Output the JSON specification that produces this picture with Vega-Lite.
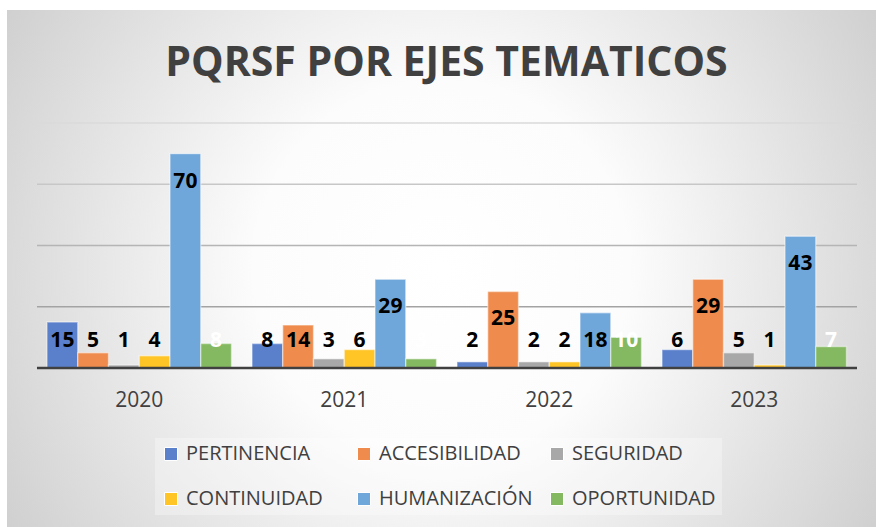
{
  "$schema": "https://vega.github.io/schema/vega-lite/v6.json",
  "width": 869,
  "height": 517,
  "autosize": {"type": "none"},
  "padding": {"left": 7, "top": 10, "right": 0, "bottom": 0},
  "background": "#ffffff",
  "config": {
    "view": {
      "stroke": null,
      "fill": {
        "gradient": "radial",
        "x1": 0.5, "y1": 0.5, "r1": 0,
        "x2": 0.5, "y2": 0.5, "r2": 0.72,
        "stops": [
          {"offset": 0, "color": "#ffffff"},
          {"offset": 0.3, "color": "#fcfcfc"},
          {"offset": 1, "color": "#bfbfbf"}
        ]
      }
    },
    "font": "Open Sans",
    "axisX": {"orient": "bottom", "offset": -159, "domain": false, "ticks": false, "grid": false, "labelAngle": 0, "labelPadding": 21, "labelFontSize": 21, "labelFont": "Open Sans", "labelColor": "#404040", "title": null}
  },
  "title": {
    "text": "PQRSF POR EJES TEMATICOS",
    "font": "Open Sans",
    "fontSize": 41,
    "fontWeight": "bold",
    "color": "#404040",
    "anchor": "middle",
    "frame": "group",
    "offset": -75,
    "dx": 5
  },
  "datasets": {
    "d": [
      {"year": "2020", "eje": "PERTINENCIA", "v": 15},
      {"year": "2020", "eje": "ACCESIBILIDAD", "v": 5},
      {"year": "2020", "eje": "SEGURIDAD", "v": 1},
      {"year": "2020", "eje": "CONTINUIDAD", "v": 4},
      {"year": "2020", "eje": "HUMANIZACIÓN", "v": 70},
      {"year": "2020", "eje": "OPORTUNIDAD", "v": 8},
      {"year": "2021", "eje": "PERTINENCIA", "v": 8},
      {"year": "2021", "eje": "ACCESIBILIDAD", "v": 14},
      {"year": "2021", "eje": "SEGURIDAD", "v": 3},
      {"year": "2021", "eje": "CONTINUIDAD", "v": 6},
      {"year": "2021", "eje": "HUMANIZACIÓN", "v": 29},
      {"year": "2021", "eje": "OPORTUNIDAD", "v": 3},
      {"year": "2022", "eje": "PERTINENCIA", "v": 2},
      {"year": "2022", "eje": "ACCESIBILIDAD", "v": 25},
      {"year": "2022", "eje": "SEGURIDAD", "v": 2},
      {"year": "2022", "eje": "CONTINUIDAD", "v": 2},
      {"year": "2022", "eje": "HUMANIZACIÓN", "v": 18},
      {"year": "2022", "eje": "OPORTUNIDAD", "v": 10},
      {"year": "2023", "eje": "PERTINENCIA", "v": 6},
      {"year": "2023", "eje": "ACCESIBILIDAD", "v": 29},
      {"year": "2023", "eje": "SEGURIDAD", "v": 5},
      {"year": "2023", "eje": "CONTINUIDAD", "v": 1},
      {"year": "2023", "eje": "HUMANIZACIÓN", "v": 43},
      {"year": "2023", "eje": "OPORTUNIDAD", "v": 7}
    ],
    "grid": [{"g": 20}, {"g": 40}, {"g": 60}, {"g": 80}],
    "base": [{"g": 0}]
  },
  "layer": [
    {
      "data": {"name": "grid"},
      "mark": {"type": "rule", "strokeWidth": 1.3},
      "encoding": {
        "y": {"field": "g", "type": "quantitative", "scale": {"domain": [-51.92, 116.9], "nice": false, "zero": false}, "axis": null},
        "x": {"datum": "2020", "type": "nominal", "bandPosition": -0.0542},
        "x2": {"datum": "2023", "bandPosition": 1.0569},
        "stroke": {"field": "g", "type": "quantitative", "scale": {"domain": [20, 80], "range": ["#a3a3a3", "#dadada"]}, "legend": null}
      }
    },
    {
      "data": {"name": "d"},
      "mark": {"type": "bar", "stroke": "#ffffff", "strokeOpacity": 0.45, "strokeWidth": 1.4},
      "encoding": {
        "x": {
          "field": "year", "type": "nominal",
          "scale": {"domain": ["2020", "2021", "2022", "2023"], "paddingInner": 0.1, "paddingOuter": 0.1695, "align": 0.5755}
        },
        "xOffset": {"field": "eje", "type": "nominal", "scale": {"domain": ["PERTINENCIA", "ACCESIBILIDAD", "SEGURIDAD", "CONTINUIDAD", "HUMANIZACIÓN", "OPORTUNIDAD"], "paddingInner": 0, "paddingOuter": 0}},
        "y": {"field": "v", "type": "quantitative", "scale": {"domain": [-51.92, 116.9], "nice": false, "zero": false}, "axis": null},
        "color": {
          "field": "eje", "type": "nominal",
          "scale": {
            "domain": ["PERTINENCIA", "ACCESIBILIDAD", "SEGURIDAD", "CONTINUIDAD", "HUMANIZACIÓN", "OPORTUNIDAD"],
            "range": ["#5B80CB", "#EE8B4D", "#A8A8A8", "#FFC527", "#70A7DB", "#84B962"]
          },
          "legend": {
            "orient": "none", "legendX": 148, "legendY": 428,
            "direction": "horizontal", "columns": 3, "gridAlign": "all",
            "title": null, "symbolType": "square", "symbolSize": 169,
            "symbolStrokeColor": "#ffffff", "symbolStrokeWidth": 1,
            "labelFont": "Open Sans", "labelFontSize": 20, "labelColor": "#404040",
            "labelOffset": 5, "labelLimit": 300,
            "columnPadding": 14, "rowPadding": 25, "padding": 6,
            "fillColor": "rgba(255,255,255,0.3)"
          }
        }
      }
    },
    {
      "data": {"name": "base"},
      "mark": {"type": "rule", "strokeWidth": 2.5, "color": "#404040"},
      "encoding": {
        "y": {"field": "g", "type": "quantitative"},
        "x": {"datum": "2020", "type": "nominal", "bandPosition": -0.0542},
        "x2": {"datum": "2023", "bandPosition": 1.0569}
      }
    },
    {
      "data": {"name": "d"},
      "transform": [{"filter": "datum.v >= 18"}],
      "mark": {"type": "text", "font": "Open Sans", "fontSize": 21, "fontWeight": "bold", "baseline": "middle", "dy": 28},
      "encoding": {
        "x": {"field": "year", "type": "nominal"},
        "xOffset": {"field": "eje", "type": "nominal"},
        "y": {"field": "v", "type": "quantitative"},
        "text": {"field": "v", "type": "quantitative"},
        "color": {"condition": {"test": "datum.eje === 'OPORTUNIDAD'", "value": "#ffffff"}, "value": "#000000"}
      }
    },
    {
      "data": {"name": "d"},
      "transform": [{"filter": "datum.v < 18"}],
      "mark": {"type": "text", "font": "Open Sans", "fontSize": 21, "fontWeight": "bold", "baseline": "middle", "dy": -27},
      "encoding": {
        "x": {"field": "year", "type": "nominal"},
        "xOffset": {"field": "eje", "type": "nominal"},
        "y": {"datum": 0, "type": "quantitative"},
        "text": {"field": "v", "type": "quantitative"},
        "color": {"condition": {"test": "datum.eje === 'OPORTUNIDAD'", "value": "#ffffff"}, "value": "#000000"}
      }
    }
  ]
}
